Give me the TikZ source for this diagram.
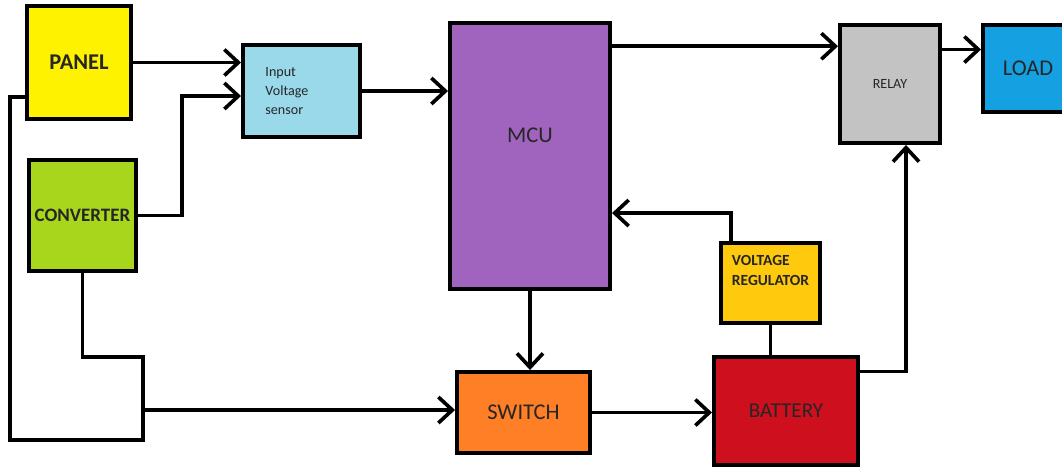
\documentclass[tikz,border=0pt]{standalone}
\usepackage{fontspec}
\setmainfont{Carlito}
\usepackage{tikz}
\usetikzlibrary{arrows.meta, positioning, calc}
\definecolor{myyellow}{RGB}{255,242,0}
\definecolor{mylime}{RGB}{168,214,28}
\definecolor{mycyan}{RGB}{153,217,234}
\definecolor{mypurple}{RGB}{160,100,190}
\definecolor{mygray}{RGB}{195,195,195}
\definecolor{myblue}{RGB}{20,160,225}
\definecolor{mygold}{RGB}{255,201,14}
\definecolor{myred}{RGB}{205,15,30}
\definecolor{myorange}{RGB}{255,127,39}
\tikzstyle{block} = [draw=black, line width=2.8pt, inner sep=1pt, align=center, text=black!85]
\tikzstyle{arrow} = [line width=2.6pt, -{Straight Barb[length=3.5mm,width=6.5mm]}]
\tikzstyle{wire} = [line width=2.6pt]

\begin{document}
\begin{tikzpicture}[x=0.025cm, y=-0.025cm]
\useasboundingbox (0,0) rectangle (1062,468);

\node[block,
fill=myyellow,
minimum width=2.6cm,
minimum height=2.825cm,
font=\fontsize{16}{18}\selectfont\bfseries
] (panel) at (79,62.5) {PANEL};

\node[block,
fill=mylime,
minimum width=2.675cm,
minimum height=2.775cm,
font=\fontsize{13.5}{16}\selectfont\bfseries
] (converter) at (82.5,215.5) {CONVERTER};

\node[block,
fill=mycyan,
minimum width=2.925cm,
minimum height=2.3cm,
text width=1.8cm,
align=left,
font=\fontsize{10}{13.5}\selectfont
] (sensor) at (301.5,91) {Input\\Voltage\\sensor};

\node[block,
fill=mypurple,
minimum width=4cm,
minimum height=6.65cm,
text height=11pt,
text depth=30pt,
font=\fontsize{16}{18}\selectfont
] (mcu) at (530,156) {MCU};

\node[block,
fill=mygray,
minimum width=2.5cm,
minimum height=2.95cm,
font=\fontsize{10}{12}\selectfont
] (relay) at (890,84) {RELAY};

\node[block,
fill=myblue,
minimum width=2.25cm,
minimum height=2.175cm,
font=\fontsize{16}{18}\selectfont
] (load) at (1028,68.5) {LOAD};

\node[block,
fill=mygold,
minimum width=2.475cm,
minimum height=2cm,
align=left,
font=\fontsize{11}{14}\selectfont\bfseries
] (vreg) at (770.5,283) {VOLTAGE\\REGULATOR\\[0.12cm]};

\node[block,
fill=myred,
minimum width=3.6cm,
minimum height=2.7cm,
font=\fontsize{15}{18}\selectfont
] (battery) at (786,411) {BATTERY};

\node[block,
fill=myorange,
minimum width=3.325cm,
minimum height=2.025cm,
font=\fontsize{16}{18}\selectfont
] (switch) at (523.5,412.5) {SWITCH};

\draw[arrow] (panel.east) -- (panel.east -| sensor.west);
\draw[arrow] (converter.east) -- ++(44,0) |- ([yshift=-0.125cm]sensor.west);
\draw[arrow] (sensor.east) -- (sensor.east -| mcu.west);
\draw[arrow] (mcu.east |- relay.144) -- (relay.144);
\draw[arrow] (relay.east |- load.158) -- (load.158);
\draw[arrow] (battery.28) -| ([xshift=0.4cm]relay.south);
\draw[arrow] ([xshift=0.3cm]vreg.north west) |- ([yshift=-1.425cm]mcu.east);
\draw[wire] (vreg.south) -- (vreg.south |- battery.north);
\draw[arrow] (mcu.south) -- (mcu.south |- switch.north);
\draw[arrow] (switch.east) -- (switch.east -| battery.west);

\coordinate (corner) at (143,440);
\coordinate (tap) at (143,410);
\draw[wire] (converter.south) -- ++(0,84) -| (corner) -- ++(-133,0) |- ([yshift=-0.86cm]panel.west);
\draw[arrow] (tap) -- (tap -| switch.west);
\end{tikzpicture}
\end{document}
